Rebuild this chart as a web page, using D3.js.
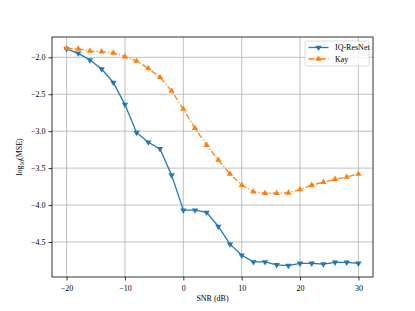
<!DOCTYPE html>
<html>
<head>
<meta charset="utf-8">
<script src="https://cdn.jsdelivr.net/npm/d3@7"></script>
<style>
  body { margin: 0; background: #fff; }
  svg { display: block; font-family: "Liberation Serif", "DejaVu Serif", serif; }
</style>
</head>
<body>
<figure id="chart" style="margin:0"></figure>
<script>
// SNR values (dB)
const snr = [-20, -18, -16, -14, -12, -10, -8, -6, -4, -2, 0, 2, 4, 6, 8, 10, 12, 14, 16, 18, 20, 22, 24, 26, 28, 30];

// log10(MSE) per method
const iqResNet = [-1.887, -1.946, -2.037, -2.159, -2.34, -2.64, -3.02, -3.15, -3.24, -3.595, -4.07, -4.07, -4.10, -4.29, -4.53, -4.68, -4.77, -4.77, -4.81, -4.82, -4.79, -4.79, -4.80, -4.775, -4.775, -4.79];
const kay = [-1.878, -1.887, -1.915, -1.924, -1.94, -1.99, -2.05, -2.15, -2.27, -2.457, -2.70, -2.96, -3.19, -3.39, -3.58, -3.73, -3.82, -3.84, -3.84, -3.835, -3.79, -3.73, -3.69, -3.65, -3.62, -3.58];

const xTicks = [-20, -10, 0, 10, 20, 30];
const yTicks = [-2.0, -2.5, -3.0, -3.5, -4.0, -4.5];

const W = 415, H = 311;
const margin = { left: 52, right: 42, top: 37, bottom: 34 };
const width = W - margin.left - margin.right;
const height = H - margin.top - margin.bottom;

const svg = d3.select("#chart").append("svg")
  .attr("width", W)
  .attr("height", H);

const g = svg.append("g")
  .attr("transform", "translate(" + margin.left + "," + margin.top + ")");

const x = d3.scaleLinear().domain([-22.5, 32.5]).range([0, width]);
const y = d3.scaleLinear().domain([-4.974, -1.725]).range([height, 0]);

// grid
g.append("g").selectAll("line").data(xTicks).enter().append("line")
  .attr("x1", d => x(d)).attr("x2", d => x(d))
  .attr("y1", 0).attr("y2", height)
  .attr("stroke", "#b0b0b0").attr("stroke-width", 0.8);
g.append("g").selectAll("line").data(yTicks).enter().append("line")
  .attr("x1", 0).attr("x2", width)
  .attr("y1", d => y(d)).attr("y2", d => y(d))
  .attr("stroke", "#b0b0b0").attr("stroke-width", 0.8);

// axes
const fmtY = d => d3.format(".1f")(d).replace("-", "\u2212");
const fmtX = d => String(d).replace("-", "\u2212");

const xAxis = g.append("g")
  .attr("transform", "translate(0," + height + ")")
  .call(d3.axisBottom(x).tickValues(xTicks).tickFormat(fmtX).tickSize(3.5).tickSizeOuter(0));
const yAxis = g.append("g")
  .call(d3.axisLeft(y).tickValues(yTicks).tickFormat(fmtY).tickSize(3.5).tickSizeOuter(0));

[xAxis, yAxis].forEach(a => {
  a.select(".domain").remove();
  a.selectAll("line").attr("stroke", "#000").attr("stroke-width", 0.8);
  a.selectAll("text").attr("font-size", 8).attr("fill", "#000")
    .attr("font-family", "Liberation Serif, serif");
});
xAxis.selectAll("text").attr("dy", "0.9em");

// frame
g.append("rect")
  .attr("width", width).attr("height", height)
  .attr("fill", "none").attr("stroke", "#000").attr("stroke-width", 0.8);

// lines
const line = data => d3.line().x((d, i) => x(snr[i])).y(d => y(d))(data);

const series = [
  { name: "IQ-ResNet", values: iqResNet, color: "#1f77b4", dash: null, marker: "down" },
  { name: "Kay", values: kay, color: "#ff7f0e", dash: "6,2,1.2,2", marker: "up" }
];

const tri = (dir, s) => dir === "up"
  ? "M0," + (-s) + "L" + (s * 0.87) + "," + (s * 0.5) + "L" + (-s * 0.87) + "," + (s * 0.5) + "Z"
  : "M0," + s + "L" + (s * 0.87) + "," + (-s * 0.5) + "L" + (-s * 0.87) + "," + (-s * 0.5) + "Z";

series.forEach(s => {
  g.append("path")
    .attr("d", line(s.values))
    .attr("fill", "none")
    .attr("stroke", s.color)
    .attr("stroke-width", 1.3)
    .attr("stroke-dasharray", s.dash);
  g.append("g").selectAll("path").data(s.values).enter().append("path")
    .attr("transform", (d, i) => "translate(" + x(snr[i]) + "," + y(d) + ")")
    .attr("d", tri(s.marker, 3.6))
    .attr("fill", s.color);
});

// axis labels
svg.append("text")
  .attr("x", margin.left + width / 2).attr("y", 301)
  .attr("text-anchor", "middle").attr("font-size", 8)
  .text("SNR (dB)");

const yl = svg.append("text")
  .attr("transform", "translate(22," + (margin.top + height / 2) + ") rotate(-90)")
  .attr("text-anchor", "middle").attr("font-size", 8);
yl.append("tspan").text("log");
yl.append("tspan").attr("font-size", 5.5).attr("dy", 2).text("10");
yl.append("tspan").attr("dy", -2).text("(MSE)");

// legend
const lg = svg.append("g").attr("transform", "translate(305,41)");
lg.append("rect")
  .attr("width", 64).attr("height", 25).attr("rx", 1.5)
  .attr("fill", "#fff").attr("fill-opacity", 0.8)
  .attr("stroke", "#d0d0d0").attr("stroke-width", 0.8);
series.forEach((s, i) => {
  const yy = 6.5 + i * 11.5;
  lg.append("line")
    .attr("x1", 3.5).attr("x2", 23.5).attr("y1", yy).attr("y2", yy)
    .attr("stroke", s.color).attr("stroke-width", 1.3)
    .attr("stroke-dasharray", s.dash);
  lg.append("path")
    .attr("transform", "translate(13.5," + yy + ")")
    .attr("d", tri(s.marker, 3.6))
    .attr("fill", s.color);
  lg.append("text")
    .attr("x", 30).attr("y", yy + 2.8)
    .attr("font-size", 8)
    .text(s.name);
});
</script>
</body>
</html>
